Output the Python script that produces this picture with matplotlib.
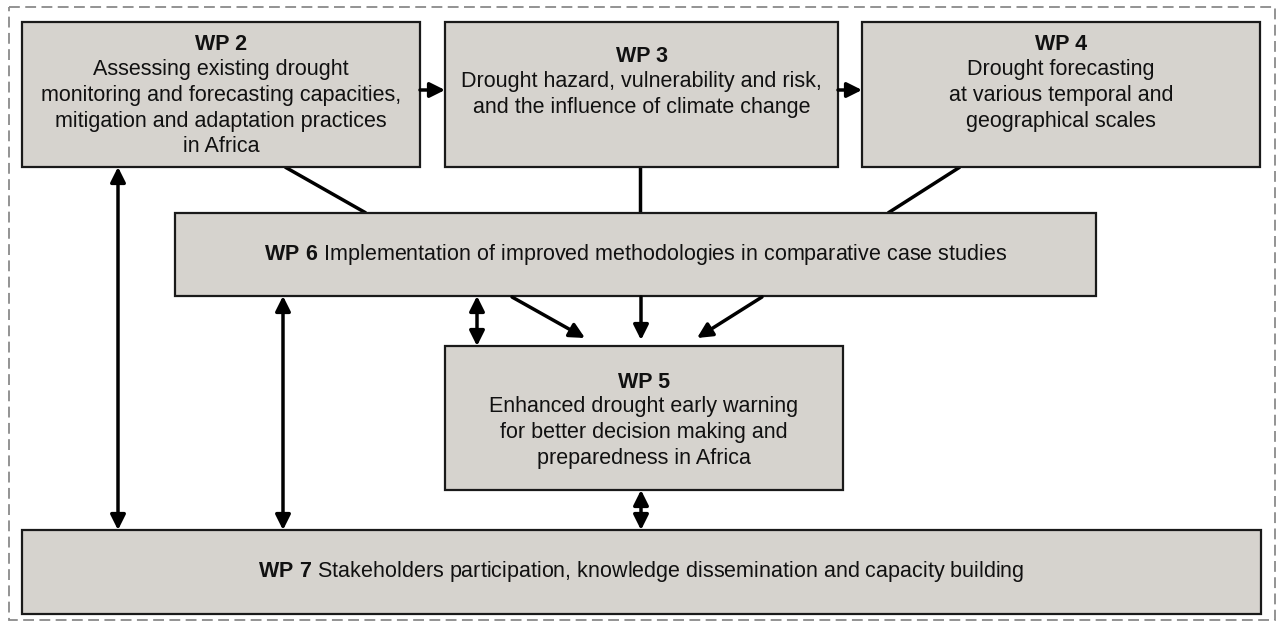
import matplotlib.pyplot as plt
from matplotlib.patches import Rectangle, FancyArrowPatch

plt.rcParams['font.family'] = ['Liberation Sans', 'DejaVu Sans']
plt.rcParams['mathtext.fontset'] = 'custom'
plt.rcParams['mathtext.rm'] = 'Liberation Sans'
plt.rcParams['mathtext.bf'] = 'Liberation Sans:bold'

# --- diagram content ---
wp_ids = ['WP 2', 'WP 3', 'WP 4', 'WP 6', 'WP 5', 'WP 7']
wp_texts = [
    'Assessing existing drought\nmonitoring and forecasting capacities,\nmitigation and adaptation practices\nin Africa',
    'Drought hazard, vulnerability and risk,\nand the influence of climate change',
    'Drought forecasting\nat various temporal and\ngeographical scales',
    'Implementation of improved methodologies in comparative case studies',
    'Enhanced drought early warning\nfor better decision making and\npreparedness in Africa',
    'Stakeholders participation, knowledge dissemination and capacity building',
]
inline_title = [False, False, False, True, False, True]

# --- layout (pixels, y downwards) ---
boxes = {
    'WP 2': (22, 22, 420, 167),
    'WP 3': (445, 22, 838, 167),
    'WP 4': (862, 22, 1260, 167),
    'WP 6': (175, 213, 1096, 296),
    'WP 5': (445, 346, 843, 490),
    'WP 7': (22, 530, 1261, 614),
}
title_y = {'WP 2': 45, 'WP 3': 57, 'WP 4': 45, 'WP 5': 382}

W, H = 1277, 623
fig = plt.figure(figsize=(W / 100, H / 100), dpi=100)
ax = fig.add_axes([0, 0, 1, 1])
ax.set_xlim(0, W)
ax.set_ylim(H, 0)
ax.axis('off')

# outer dashed frame
ax.add_patch(Rectangle((9, 7), 1266, 613, fill=False, edgecolor='#8a8a8a',
                       linewidth=1.3, linestyle=(0, (6, 3)), zorder=1))

fs = 15.5
fill = '#d6d3ce'
for wp, txt, inline in zip(wp_ids, wp_texts, inline_title):
    x0, y0, x1, y1 = boxes[wp]
    ax.add_patch(Rectangle((x0, y0), x1 - x0, y1 - y0, facecolor=fill,
                           edgecolor='#1a1a1a', linewidth=1.6, zorder=3))
    cx = (x0 + x1) / 2
    if inline:
        label = r'$\mathbf{' + wp.replace(' ', r'\ ') + r'}$ ' + txt
        ax.text(cx, (y0 + y1) / 2, label, ha='center', va='center',
                fontsize=fs, color='#111111', zorder=4)
    else:
        ty = title_y[wp]
        ax.text(cx, ty, wp, ha='center', va='center', fontsize=fs,
                fontweight='bold', color='#111111', zorder=4)
        ax.text(cx, ty + 14, txt, ha='center', va='top', fontsize=fs,
                linespacing=1.3, multialignment='center',
                color='#111111', zorder=4)


def arrow(p0, p1, style='-|>'):
    a = FancyArrowPatch(p0, p1, arrowstyle=style + ',head_length=0.6,head_width=0.3',
                        mutation_scale=15, color='black', linewidth=2.5,
                        shrinkA=0, shrinkB=0, zorder=5)
    ax.add_patch(a)


def line(p0, p1):
    ax.plot([p0[0], p1[0]], [p0[1], p1[1]], color='black', linewidth=2.5,
            solid_capstyle='butt', zorder=2)


# top row flow
arrow((420, 90), (445, 90))
arrow((838, 90), (862, 90))

# WP2/3/4 -> WP6 connectors
line((285, 167), (366, 213))
line((640, 167), (640, 213))
line((960, 167), (888, 213))

# WP6 -> WP5
arrow((477, 296), (477, 346), '<|-|>')
arrow((512, 297), (585, 338))
arrow((641, 297), (641, 340))
arrow((762, 297), (697, 338))

# links with WP7
arrow((118, 167), (118, 530), '<|-|>')
arrow((283, 296), (283, 530), '<|-|>')
arrow((641, 490), (641, 530), '<|-|>')

fig.savefig('out.png', dpi=100)
